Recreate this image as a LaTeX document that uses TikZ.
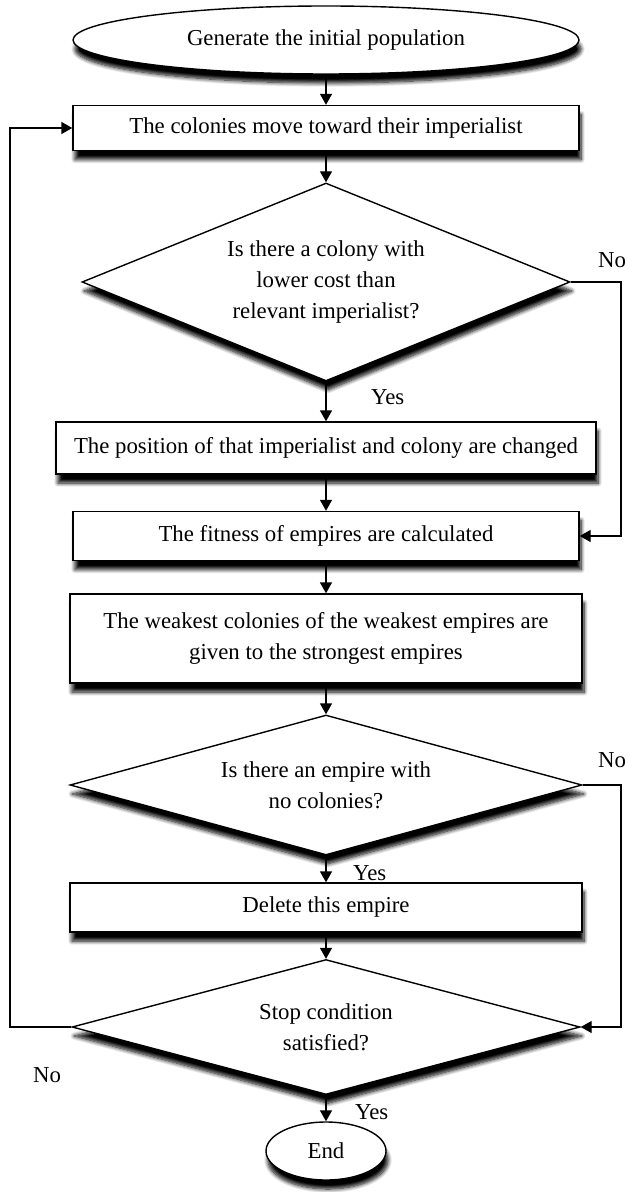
\documentclass[tikz,border=0pt]{standalone}
\usepackage{fontspec}
\setmainfont{Liberation Serif}
\usepackage{tikz}
\usetikzlibrary{arrows.meta,shapes.geometric,shadows.blur}

\begin{document}
\begin{tikzpicture}[x=0.5pt,y=-0.5pt,
  font=\fontsize{11.4}{15.5}\selectfont,
  dropshade/.style={blur shadow={shadow xshift=1pt,shadow yshift=-4.5pt,shadow blur radius=2pt,shadow blur steps=8,shadow opacity=100}},
  procbox/.style={draw,line width=0.7pt,fill=white,dropshade,align=center},
  decbox/.style={procbox,diamond,inner sep=0pt},
  flow/.style={-{Triangle[length=5.5pt,width=6pt]},line width=0.7pt}]
  \useasboundingbox (0,0) rectangle (627,1192);
  % steps of the algorithm, top to bottom
  \node[procbox,ellipse,minimum width=253pt,minimum height=34pt] (init) at (326,40) {Generate the initial population};
  \node[procbox,minimum width=253pt,minimum height=22.5pt] (move) at (326,128) {The colonies move toward their imperialist};
  \node[decbox,aspect=2.46,minimum width=244pt,minimum height=99pt] (dec1) at (326,282) {Is there a colony with\\lower cost than\\relevant imperialist?};
  \node[procbox,minimum width=270pt,minimum height=26pt] (swap) at (326,448) {The position of that imperialist and colony are changed};
  \node[procbox,minimum width=253pt,minimum height=24.5pt] (fitness) at (326,536) {The fitness of empires are calculated};
  \node[procbox,minimum width=256pt,minimum height=44.5pt] (give) at (326,638.5) {The weakest colonies of the weakest empires are\\given to the strongest empires};
  \node[decbox,aspect=3.66,minimum width=256pt,minimum height=70pt] (dec2) at (326,785) {Is there an empire with\\no colonies?};
  \node[procbox,minimum width=256pt,minimum height=24.5pt] (del) at (326,907.5) {Delete this empire};
  \node[decbox,aspect=3.76,minimum width=254pt,minimum height=67.5pt] (dec3) at (326,1027) {Stop condition\\satisfied?};
  \node[procbox,ellipse,minimum width=60pt,minimum height=29pt] (done) at (326,1151) {End};
  % branch labels
  \node (no1) at (612,260) {No};
  \node[anchor=west] (yes1) at (364,397) {Yes};
  \node (no2) at (612,760) {No};
  \node[anchor=west] (yes2) at (346,873) {Yes};
  \node (no3) at (47,1075) {No};
  \node[anchor=west] (yes3) at (348,1112) {Yes};
  \coordinate (r1) at (621,282);
  \coordinate (r2) at (621,785);
  \coordinate (l1) at (10,1027);
  % connectors
  \draw[flow] (init) -- (move);
  \draw[flow] (move) -- (dec1);
  \draw[flow] (dec1) -- (swap);
  \draw[flow] (swap) -- (fitness);
  \draw[flow] (fitness) -- (give);
  \draw[flow] (give) -- (dec2);
  \draw[flow] (dec2) -- (del);
  \draw[flow] (del) -- (dec3);
  \draw[flow] (dec3) -- (done);
  \draw[flow] (dec1.east) -- (r1) |- (fitness.east);
  \draw[flow] (dec2.east) -- (r2) |- (dec3.east);
  \draw[flow] (dec3.west) -- (l1) |- (move.west);
\end{tikzpicture}
\end{document}
